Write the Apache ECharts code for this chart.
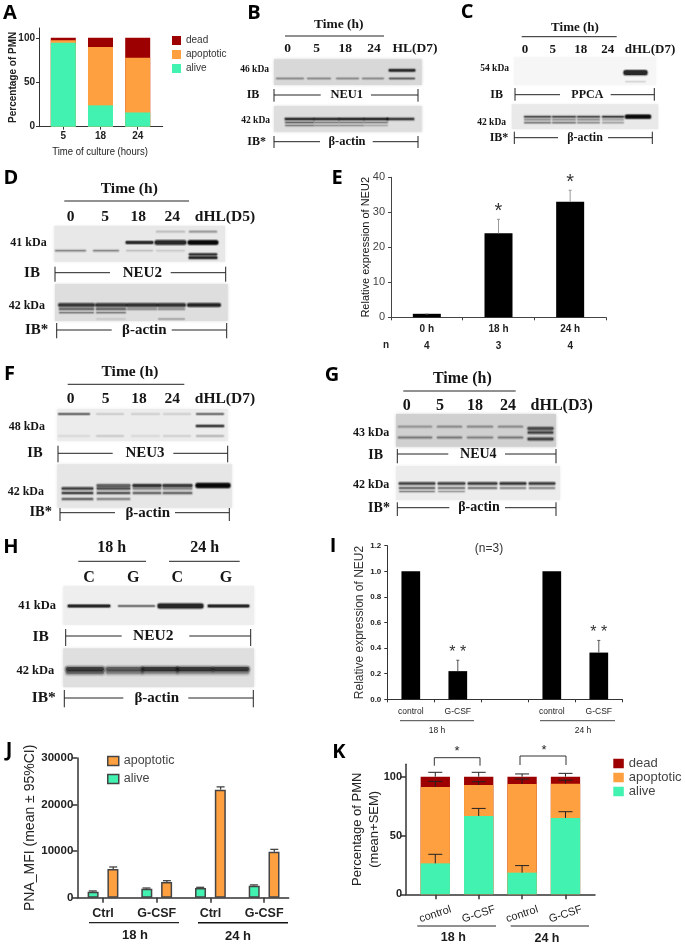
<!DOCTYPE html>
<html><head><meta charset="utf-8"><style>html,body{margin:0;padding:0;background:#fff}#c{width:685px;height:945px}</style>
<script src="https://cdn.jsdelivr.net/npm/echarts@6/dist/echarts.min.js"></script></head><body><div id="c"></div>
<script>
// ---------- data ----------
const aCats=['5','18','24'];
const aAlive=[94.4,24,16];
const aApoptotic=[2.8,65.5,61.5];
const aDead=[2.8,10.5,22.5];
const eCats=['0 h','18 h','24 h'];
const eN=[4,3,4];
const eValues=[1,24,33];
const eErrTop=[1,28,36.3];
const eStars=['','*','*'];
const iCats=['control','G-CSF','','control','G-CSF'];
const iValues=[1,0.22,null,1,0.365];
const iErrTop=[null,0.305,null,null,0.46];
const iStars=['','* *','','','* *'];
const jCats=['Ctrl','G-CSF','Ctrl','G-CSF'];
const jAlive=[1290,1930,2080,2580];
const jApoptotic=[6150,3360,23200,9880];
const jAliveErr=[1450,2080,2230,2750];
const jApoptoticErr=[6600,3650,23800,10380];
const kCats=['control','G-CSF','control','G-CSF'];
const kAlive=[26.3,66.6,18.4,64.9];
const kApoptotic=[64.9,26.3,75.4,29.1];
const kDead=[8.8,7.1,6.2,6];
const kAliveErr=[34,73,24.4,70.2];
const kApoptoticErr=[96,95.7,98,97];
const kDeadErr=[103.7,103.7,102.3,102.8];
// blot band darkness: one row per band, one value per lane
const bNeu1=[[0,0,0,0,.95],[.32,.32,.32,.32,.55]];
const bActin=[[.85,.85,.9,.9,.75],[.55,.4,.4,.4,0],[.4,.3,.3,.2,0]];
const cPpca=[[0,0,0,0,1],[0,0,0,0,.15]];
const cActin=[[.7,.7,.7,.8,1],[0,0,0,0,1],[.4,.4,.4,.3,0],[.5,.5,.4,.3,0]];
const dNeu2=[[0,0,0,.15,.3],[0,0,1,0,1],[0,0,0,1,1],[.4,.4,.15,.1,0],[0,0,0,0,.9],[0,0,0,0,1]];
const dActin=[[.85,.85,.9,.9,1],[.6,.6,.35,.35,0],[.4,.4,0,0,0],[0,.1,0,.3,0]];
const fNeu3=[[.6,.12,.1,.1,.55],[0,0,0,0,.95],[.08,.15,.08,.12,.25]];
const fActin=[[0,0,0,0,1],[0,.6,.9,.85,1],[.8,.7,.4,.4,0],[.7,.6,.5,.5,0],[.5,.35,0,0,0]];
const gNeu4=[[.25,.3,.3,.3,0],[0,0,0,0,.7],[.4,.4,.35,.4,0],[0,0,0,0,.75],[0,0,0,0,.7]];
const gActin=[[.8,.8,.85,.9,.85],[.6,.5,.5,.4,.4],[.4,.3,0,0,0]];
const hNeu2=[[1,0,0,1],[0,.7,0,0],[0,0,1,0]];
const hActin=[[.8,.6,.85,.85,.85],[.5,.35,.3,.3,.3]];

// ---------- palette ----------
const RED='#9c0000',ORG='#ffa040',GRN='#42f2b0',SANS='"Liberation Sans",Arial,sans-serif',SERIF='"Liberation Serif",serif',HEAD='"Open Sans",sans-serif';

// ---------- drawing helpers ----------
const G=[];
const txt=(x,y,s,font,fill='#1c1c1c',align='center',extra={})=>G.push({type:'text',x,y,z:20,...extra,style:{text:s,font,fill,textAlign:align,textVerticalAlign:'middle'}});
const ln=(x1,y1,x2,y2,w=1,c='#222')=>G.push({type:'line',z:15,shape:{x1,y1,x2,y2},style:{stroke:c,lineWidth:w}});
const letter=(s,x,y)=>txt(x,y,s,`700 20px ${HEAD}`,'#000');
const serif=(x,y,s,size,align='center')=>txt(x,y,s,`700 ${size}px ${SERIF}`,'#151515',align);
function bracket(x0,x1,y,t0,t1,g0,g1,name,cx,size){
  ln(x0,y,g0,y);ln(g1,y,x1,y);ln(x0,t0,x0,t1);ln(x1,t0,x1,t1);serif(cx,y,name,size);
}
function blot(r,bg,lanes,rows,thick,dark,soft=1){
  G.push({type:'rect',z:5,shape:{x:r[0],y:r[1],width:r[2]-r[0],height:r[3]-r[1]},style:{fill:bg,shadowBlur:3,shadowColor:bg}});
  const layers=[[2.6*soft,.14],[1.3*soft,.3],[-.3,.72]];
  dark.forEach((row,i)=>row.forEach((d,l)=>{ if(!d) return;
    layers.forEach(([dw,a])=>G.push({type:'line',z:6,shape:{x1:lanes[l][0],y1:rows[i],x2:lanes[l][1],y2:rows[i]},
      style:{stroke:`rgba(0,0,0,${d*a})`,lineWidth:Math.max(thick[i]+dw,.8),lineCap:'round'}}));
  }));
}
function heads(items,y,size){items.forEach(([x,s])=>serif(x,y,s,size));}

// ---------- axes / series helpers ----------
const grids=[],xAxes=[],yAxes=[],series=[],legends=[];
function panel(l,t,w,h,x,y){
  grids.push({left:l,top:t,width:w,height:h,containLabel:false});
  const i=grids.length-1;
  xAxes.push({gridIndex:i,splitLine:{show:false},...x});
  yAxes.push({gridIndex:i,type:'value',splitLine:{show:false},...y});
  return i;
}
const axisBits=(w,c,len)=>({axisLine:{show:true,onZero:false,lineStyle:{color:c,width:w}},axisTick:{show:true,length:len,lineStyle:{color:c,width:w}}});
function xVal(cats,min,max,w,c,len,label){
  const idx=cats.map((_,i)=>i),b=axisBits(w,c,len);
  return {type:'value',min,max,...b,axisTick:{...b.axisTick,customValues:idx},
    axisLabel:{customValues:idx,formatter:v=>cats[Math.round(v)],hideOverlap:false,showMinLabel:true,showMaxLabel:true,...label}};
}
function yVal(max,ticks,w,c,len,label,name,nameStyle,gap){
  const b=axisBits(w,c,len);
  return {min:0,max,...b,axisTick:{...b.axisTick,customValues:ticks},axisLabel:{customValues:ticks,margin:4,formatter:v=>String(v),...label},
    name,nameLocation:'middle',nameRotate:90,nameGap:gap,nameMoveOverlap:false,nameTextStyle:nameStyle};
}
const barS=(g,name,vals,color,extra={})=>series.push({type:'bar',name,xAxisIndex:g,yAxisIndex:g,data:vals.map((v,i)=>[i,v]),itemStyle:{color},...extra});
function errS(g,base,top,cap,color,width,stars,starFont,starGap){
  series.push({type:'custom',xAxisIndex:g,yAxisIndex:g,z:8,silent:true,
    data:top.map((v,i)=>[i,base[i],v]),encode:{x:0,y:[1,2]},
    renderItem(p,api){
      const i=api.value(0),hi=api.value(2),lo=api.value(1),kids=[];
      if(hi==null||isNaN(hi)){return {type:'group',children:[]};}
      const a=api.coord([i,lo]),b=api.coord([i,hi]);
      const st={stroke:color,lineWidth:width};
      kids.push({type:'line',shape:{x1:a[0],y1:a[1],x2:b[0],y2:b[1]},style:st});
      kids.push({type:'line',shape:{x1:b[0]-cap/2,y1:b[1],x2:b[0]+cap/2,y2:b[1]},style:st});
      if(stars&&stars[p.dataIndex]) kids.push({type:'text',style:{text:stars[p.dataIndex],x:b[0],y:b[1]+starGap,font:starFont,fill:'#333',textAlign:'center',textVerticalAlign:'middle'}});
      return {type:'group',children:kids};
    }});
}
const legend=(left,top,w,h,gap,data,size,color)=>legends.push({left,top,orient:'vertical',itemWidth:w,itemHeight:h,itemGap:gap,selectedMode:false,icon:'rect',padding:0,data,textStyle:{fontSize:size,fontFamily:SANS,color},itemStyle:{borderWidth:0}});
const addUp=(a,b)=>a.map((v,i)=>v+b[i]);

// ---------- A ----------
letter('A',10,13);
let g=panel(39,28,123.7,98.7,
  xVal(aCats,-0.653,2.672,1,'#333',3,{fontFamily:SANS,fontSize:10,color:'#222',margin:5,fontWeight:'bold'}),
  yVal(111,[0,50,100],1,'#333',3,{fontFamily:SANS,fontSize:10,color:'#222',fontWeight:'bold'},'Percentage of PMN',{fontFamily:SANS,fontSize:10,fontWeight:'bold',color:'#222'},21));
const aTop1=aAlive,aTop2=addUp(aTop1,aApoptotic),aTop3=addUp(aTop2,aDead);
const aBar={barWidth:25,barGap:'-100%'};
barS(g,'dead',aTop3,RED,aBar);
barS(g,'apoptotic',aTop2,ORG,aBar);
barS(g,'alive',aTop1,GRN,aBar);
txt(100,152,'Time of culture (hours)',`11.5px ${SANS}`,'#222','center',{scaleX:.83});
legend(172,35.5,9,9,4,['dead','apoptotic','alive'],10,'#333');

// ---------- B ----------
letter('B',254,13);
serif(338.7,25,'Time (h)',13.5);ln(285,36,384,36,1);
heads([[287.7,'0'],[316.7,'5'],[345.3,'18'],[374,'24'],[415,'HL(D7)']],48.7,13.5);
blot([274,59.3,421.7,85],'#d8d8d8',[[277,303],[308,330],[337,358],[363,383],[390,414]],[70.3,78.5],[2.5,1.6],bNeu1);
serif(269,70,'46 kDa',9.5,'right');serif(253,95,'IB',12);
bracket(274,418,95,89,101.7,320.7,371,'NEU1',346.7,12.5);
blot([274,106,421.7,131.7],'#dedede',[[286,313],[315,338],[340,363],[365,387],[388,413]],[119,122.5,125.5],[2.5,1.5,1.5],bActin);
serif(270,120.7,'42 kDa',9.5,'right');serif(256.7,141.7,'IB*',12);
bracket(274,418,141.7,136,148,320,372.7,'β-actin',347,12.5);

// ---------- C ----------
letter('C',467,12);
serif(575,27.3,'Time (h)',13);ln(521.7,36.7,616.7,36.7,1);
heads([[525,'0'],[552.7,'5'],[580.7,'18'],[607.7,'24'],[650,'dHL(D7)']],49.3,13);
blot([514,57.3,656,85],'#f6f6f6',[[525,550],[553,575],[578,599],[603,623],[626,645]],[72.7,81.7],[5,1],cPpca);
serif(509,69,'54 kDa',9.5,'right');serif(496.7,94.7,'IB',12);
bracket(515,654.3,94.7,88,100.7,560,610.7,'PPCA',587.3,12);
blot([511.7,104.3,658.3,129.3],'#e9e9e9',[[525,550],[553,575],[578,599],[603,623],[627,649]],[116.7,116.7,119.7,122.7],[1.8,4,1.4,1.4],cActin);
serif(506,122.7,'42 kDa',9.5,'right');serif(499,137.7,'IB*',12);
bracket(514.3,652.3,137.7,131.7,144,558,608,'β-actin',585,12);

// ---------- D ----------
letter('D',11,178);
serif(129.3,189,'Time (h)',15.5);ln(64.3,201,189,201,1);
heads([[70.7,'0'],[105,'5'],[138.3,'18'],[172.3,'24'],[225,'dHL(D5)']],216.7,15.5);
blot([54.3,225.7,225,261.7],'#e8e8e8',[[56,85],[94,118],[127,152],[157,184],[190,216]],[231.7,242.5,242.5,250.7,254.3,257.7],[2,2.6,4.5,1.6,2,2.5],dNeu2);
serif(46.7,243.3,'41 kDa',12,'right');serif(32,272.7,'IB',15);
bracket(55,225.7,272.7,266.7,281.7,110,170.7,'NEU2',142.3,15);
blot([55,284,227.7,321],'#dedede',[[60,93],[97,125],[128,156],[159,184],[189,219]],[305,309,312.7,319],[3.5,2,1.5,1],dActin);
serif(45,306,'42 kDa',12,'right');serif(36.7,330,'IB*',15);
bracket(56.7,226.7,330,323,338.3,111.7,171.7,'β-actin',144.3,15);

// ---------- E ----------
letter('E',337,178);
g=panel(391,177.3,215,140,
  {type:'category',data:eCats.map((c,i)=>c+'\n'+eN[i]),...axisBits(1,'#444',3),axisLabel:{fontFamily:SANS,fontSize:10,fontWeight:'bold',color:'#222',lineHeight:17,margin:3}},
  yVal(40,[0,10,20,30,40],1,'#444',3,{fontFamily:SANS,fontSize:11,color:'#444',margin:6},'Relative expression of NEU2',{fontFamily:SANS,fontSize:11,color:'#111'},20));
yAxes[g].interval=10;
barS(g,'NEU2',eValues,'#000',{barWidth:28});
errS(g,eValues,eErrTop,3,'#999',1,eStars,`20px ${SANS}`,-8);
txt(386,345,'n',`700 10px ${SANS}`,'#222');

// ---------- F ----------
letter('F',9.5,374);
serif(130,372.3,'Time (h)',15.5);ln(67.7,384.3,184.3,384.3,1);
heads([[70.7,'0'],[105.7,'5'],[139,'18'],[172.3,'24'],[225,'dHL(D7)']],399.3,15.5);
blot([57.3,409,227.7,441],'#ececec',[[59,89],[97,123],[132,159],[164,190],[197,223]],[414,426,436],[1.6,2,1.5],fNeu3);
serif(45,426.7,'48 kDa',12,'right');serif(35,453.3,'IB',14.5);
bracket(58,227.7,453.3,445.7,462.3,112.7,173.3,'NEU3',145,15);
blot([57.3,464.3,231.7,507.7],'#e6e6e6',[[63,92],[98,129],[134,160],[164,191],[198,228]],[485.5,485.5,488.5,493,499],[5,2.8,2.5,2.5,2.5],fActin);
serif(44,492,'42 kDa',12,'right');serif(40.7,512.7,'IB*',14.5);
bracket(60,229.3,512.7,508,521,115,175,'β-actin',147.7,15);

// ---------- G ----------
letter('G',332,375);
serif(462.3,379.3,'Time (h)',16);ln(403.3,391,515.7,391,1);
heads([[406.7,'0'],[440,'5'],[475,'18'],[508,'24'],[561.7,'dHL(D3)']],405.7,16);
blot([396,414,556,446.7],'#d0d0d0',[[399,431],[438,461],[468,492],[499,522],[529,552]],[426.7,428.5,437.5,432.5,439],[2,3,2,2.5,3],gNeu4);
serif(389.3,432.7,'43 kDa',12,'right');serif(375.7,455,'IB',14);
bracket(397.3,556,454,449,463.3,448.3,505,'NEU4',478.3,14);
blot([396,466,560,500],'#ececec',[[400,434],[439,464],[469,496],[501,525],[530,554]],[483.5,488,491.5],[2.5,2,1.5],gActin);
serif(389.3,485,'42 kDa',12,'right');serif(379,508.3,'IB*',14);
bracket(397.3,556,507.7,502.3,516,449.3,505,'β-actin',479,14);

// ---------- H ----------
letter('H',11,547);
serif(111.7,548.3,'18 h',16);serif(204.7,548.3,'24 h',16);
ln(78.3,561.3,146,561.3,1);ln(169,561.3,239.7,561.3,1);
heads([[89,'C'],[133.3,'G'],[177.3,'C'],[226,'G']],577.7,16);
blot([63.3,585.7,254,625],'#eeeeee',[[69,109],[119,154],[160,201],[209,248]],[606,606,606],[2.6,1.4,5],hNeu2);
serif(56,606,'41 kDa',12.5,'right');serif(40.7,637.3,'IB',15.5);
bracket(65.7,250.7,636,629,646,121.7,189.3,'NEU2',153.3,15.5);
blot([63.3,648.3,254,687.3],'#dfdfdf',[[68,102],[108,141],[144,176],[179,211],[215,247]],[669,672.5],[4.5,4],hActin,1.6);
serif(54.3,671,'42 kDa',12.5,'right');serif(43.7,698.3,'IB*',15.5);
bracket(64.3,253.3,698,690,707.3,123.3,188.3,'β-actin',156.7,15);

// ---------- I ----------
letter('I',333,546);
g=panel(387.3,545.7,235,153.6,
  {type:'category',data:iCats,...axisBits(1,'#333',3),axisLabel:{fontFamily:SANS,fontSize:8.5,color:'#222',margin:8,interval:0}},
  yVal(1.2,[0,.2,.4,.6,.8,1,1.2],1,'#333',3,{fontFamily:SANS,fontSize:8,fontWeight:'bold',color:'#222',formatter:v=>v.toFixed(1),margin:6},'Relative expression of NEU2',{fontFamily:SANS,fontSize:12,color:'#333'},22));
yAxes[g].interval=.2;
barS(g,'NEU2 ratio',iValues,'#000',{barWidth:18.7});
errS(g,iValues,iErrTop,3,'#555',1,iStars,`16px ${SANS}`,-8);
txt(489,549,'(n=3)',`12px ${SANS}`,'#333');
ln(400,720.7,474,720.7,1,'#444');ln(540,720.7,615,720.7,1,'#444');
txt(437,731,'18 h',`8.5px ${SANS}`,'#222');txt(583,731,'24 h',`8.5px ${SANS}`,'#222');

// ---------- J ----------
letter('J',9,750);
g=panel(77.3,758,211.4,139.7,
  xVal(jCats,-0.479,3.458,1.5,'#333',5,{fontFamily:SANS,fontSize:12.5,fontWeight:'bold',color:'#222',margin:9}),
  yVal(30000,[0,10000,20000,30000],1.5,'#333',5,{fontFamily:SANS,fontSize:11.5,fontWeight:'bold',color:'#222',margin:4},'PNA_MFI (mean ± 95%CI)',{fontFamily:SANS,fontSize:14,color:'#222'},40));
const jBar={barWidth:11,barGap:'80%'};
barS(g,'alive',jAlive,GRN,{...jBar,itemStyle:{color:GRN,borderColor:'#444',borderWidth:1.5}});
barS(g,'apoptotic',jApoptotic,ORG,{...jBar,itemStyle:{color:ORG,borderColor:'#444',borderWidth:1.5}});
const jOff=[-0.19,0.19];
[[jAlive,jAliveErr,jOff[0]],[jApoptotic,jApoptoticErr,jOff[1]]].forEach(([b,t,o])=>{
  series.push({type:'custom',xAxisIndex:g,yAxisIndex:g,z:1,silent:true,data:t.map((v,i)=>[i+o,b[i],v]),encode:{x:0,y:[1,2]},
    renderItem(p,api){const a=api.coord([api.value(0),api.value(1)]),c=api.coord([api.value(0),api.value(2)]);
      const st={stroke:'#444',lineWidth:1.3};
      return {type:'group',children:[{type:'line',shape:{x1:a[0],y1:a[1],x2:c[0],y2:c[1]},style:st},{type:'line',shape:{x1:c[0]-4,y1:c[1],x2:c[0]+4,y2:c[1]},style:st}]};}});
});
ln(89,922.7,179,922.7,1.2,'#222');ln(198,922.7,288,922.7,1.6,'#111');
txt(135,935,'18 h',`700 13px ${SANS}`);txt(238,936,'24 h',`700 13px ${SANS}`);
legend(107,754.5,11,9,5,[{name:'apoptotic',itemStyle:{color:ORG,borderColor:'#444',borderWidth:1.5}},{name:'alive',itemStyle:{color:GRN,borderColor:'#444',borderWidth:1.5}}],12.5,'#444');

// ---------- K ----------
letter('K',339,752);
g=panel(406,764.3,189,130,
  xVal(kCats,-0.675,3.68,1.5,'#333',5,{fontFamily:SANS,fontSize:11,color:'#222',margin:20,rotate:18,align:'center'}),
  yVal(110.5,[0,50,100],1.5,'#333',5,{fontFamily:SANS,fontSize:11,fontWeight:'bold',color:'#222',margin:4},'Percentage of PMN\n(mean+SEM)',{fontFamily:SANS,fontSize:13,color:'#222',lineHeight:17},23));
const k1=kAlive, k2=addUp(k1,kApoptotic), k3=addUp(k2,kDead);
const kBar={barWidth:29.3,barGap:'-100%'};
barS(g,'dead',k3,RED,kBar);
barS(g,'apoptotic',k2,ORG,kBar);
barS(g,'alive',k1,GRN,kBar);
errS(g,k1,kAliveErr,14,'#222',1,null);
errS(g,k2,kApoptoticErr,14,'#222',1,null);
errS(g,k3,kDeadErr,14,'#222',1,null);
const pl=(x1,x2,top,bot)=>G.push({type:'polyline',z:15,shape:{points:[[x1,bot],[x1,top],[x2,top],[x2,bot]]},style:{stroke:'#333',lineWidth:1,fill:null}});
pl(434.3,480,757.7,765.7);pl(520,566,756,765);
txt(457,751,'*',`13px ${SANS}`,'#222');txt(544,750,'*',`13px ${SANS}`,'#222');
ln(417.3,926,496,926,1,'#222');ln(510.7,926,589,926,1,'#222');
txt(453.3,937.3,'18 h',`700 12.5px ${SANS}`);txt(547,939,'24 h',`700 12.5px ${SANS}`);
legend(613.3,757,10.5,9.5,1,['dead','apoptotic','alive'],13,'#444');

const chart=echarts.init(document.getElementById('c'),null,{renderer:'canvas',width:685,height:945});
chart.setOption({animation:false,backgroundColor:'#fff',grid:grids,xAxis:xAxes,yAxis:yAxes,series,legend:legends,graphic:{elements:G}});
</script></body></html>
